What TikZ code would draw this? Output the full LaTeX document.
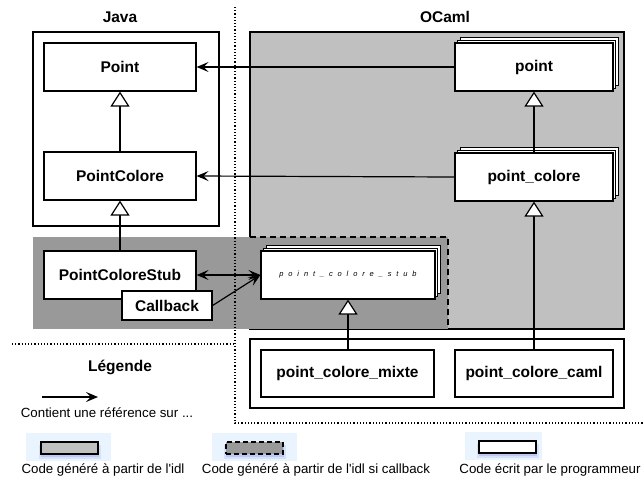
\documentclass[tikz,border=0pt]{standalone}
\usepackage{fontspec}
\setmainfont{Liberation Sans}
\newfontfamily\stubfont[LetterSpace=65]{Liberation Sans}
\usetikzlibrary{arrows.meta,shadows}
\definecolor{ocamlgrey}{RGB}{192,192,192}
\definecolor{stubgrey}{RGB}{153,153,153}
\definecolor{glowbg}{RGB}{234,244,255}
\definecolor{glowsh}{RGB}{120,135,225}
\begin{document}
\begin{tikzpicture}[x=1pt,y=-1pt,
  lw/.style={line width=1.2pt},
  classbox/.style={draw=black,lw,fill=white,inner sep=0pt,
    font=\fontsize{15.5}{18}\selectfont\bfseries},
  stack/.style={double copy shadow={shadow xshift=2.6pt,shadow yshift=2.6pt,draw=black,fill=white,line width=0.8pt}},
  title/.style={font=\fontsize{15.5}{18}\selectfont\bfseries},
  legtext/.style={font=\fontsize{13.3}{16}\selectfont},
  refarrow/.style={lw,-{Stealth[length=12pt,width=10pt,inset=5pt]}},
  inherit/.style={lw,-{Triangle[length=15pt,width=19pt,fill=white,line width=1.2pt]}},
  sep/.style={line width=1.2pt,dash pattern=on 1.2pt off 2pt},
  legbox/.style={draw=black,lw,minimum width=57pt,minimum height=12pt,inner sep=0pt}
]
\useasboundingbox (0,0) rectangle (643,480);

% regions
\draw[lw] (33,32) rectangle (219,226);
\draw[lw,fill=ocamlgrey] (250,32) rectangle (624,329);
\fill[stubgrey] (33,237) rectangle (448,329);
\draw[lw,dash pattern=on 6pt off 4pt] (250,237) -- (448,237) -- (448,329);
\draw[lw] (250,339) rectangle (624,408);

% separators
\draw[sep] (235,7) -- (235,423) -- (643,423);
\draw[sep] (12,344) -- (235,344);

% titles
\node[title] (java) at (120,17) {Java};
\node[title] (ocaml) at (445,17) {OCaml};
\node[title] (legende) at (120,367) {Légende};

% Java classes
\node[classbox,minimum width=152pt,minimum height=48pt] (Point) at (120,67) {Point};
\node[classbox,minimum width=152pt,minimum height=48pt] (PointColore) at (120,176) {PointColore};
\node[classbox,minimum width=152pt,minimum height=48pt] (PCStub) at (120,275) {PointColoreStub};
\node[classbox,minimum width=90pt,minimum height=29pt] (Callback) at (167,305.5) {Callback};

% OCaml classes
\node[classbox,stack,minimum width=158pt,minimum height=48pt] (point) at (534,67) {point};
\node[classbox,stack,minimum width=158pt,minimum height=48pt] (pointcolore) at (534,177) {point\_colore};
\node[classbox,stack,minimum width=174pt,minimum height=48pt,font=\fontsize{7.5}{9}\stubfont\itshape] (stub) at (348,275) {point\_colore\_stub};
\node[classbox,minimum width=173pt,minimum height=47pt] (mixte) at (347.5,373.5) {point\_colore\_mixte};
\node[classbox,minimum width=158pt,minimum height=47pt] (caml) at (534,373.5) {point\_colore\_caml};

% references
\draw[refarrow] (point.west) -- (Point.east);
\draw[refarrow] (pointcolore.west) -- (PointColore.east);
\draw[lw,{Stealth[length=12pt,width=10pt,inset=5pt]}-{Stealth[length=12pt,width=10pt,inset=5pt]}] (PCStub.east) -- (stub.west);
\draw[refarrow] (Callback.east) -- (stub.west);

% inheritance
\draw[inherit] (PointColore.north) -- (Point.south);
\draw[inherit] (PCStub.north) -- (PointColore.south);
\draw[inherit] (pointcolore.north) -- (point.south);
\draw[inherit] (caml.north) -- (pointcolore.south);
\draw[inherit] (stub.south |- mixte.north) -- (stub.south);

% legend
\coordinate (la) at (42,397);
\coordinate (lb) at (98,397);
\draw[refarrow] (la) -- (lb);
\node[legtext] (lref) at (107,413) {Contient une référence sur ...};

\fill[glowbg] (26,433) rectangle (111,461);
\fill[glowbg] (212,433) rectangle (297,461);
\fill[glowbg] (465,432) rectangle (542,460);
\foreach \cx/\cy in {69.5/448, 254.5/448, 507.5/447}{
  \fill[glowsh,opacity=0.18] (\cx-31,\cy-3) rectangle (\cx+31,\cy+11);
  \fill[glowsh,opacity=0.25] (\cx-29,\cy-1) rectangle (\cx+29,\cy+9);
}
\node[legbox,fill=ocamlgrey] (lg1) at (69.5,448) {};
\node[legbox,fill=stubgrey,dash pattern=on 5pt off 3pt] (lg2) at (254.5,448) {};
\node[legbox,fill=white] (lg3) at (507.5,447) {};
\node[legtext] (lt1) at (103,470) {Code généré à partir de l\textquotesingle idl};
\node[legtext] (lt2) at (316,470) {Code généré à partir de l\textquotesingle idl si callback};
\node[legtext] (lt3) at (550,470) {Code écrit par le programmeur};
\end{tikzpicture}
\end{document}
